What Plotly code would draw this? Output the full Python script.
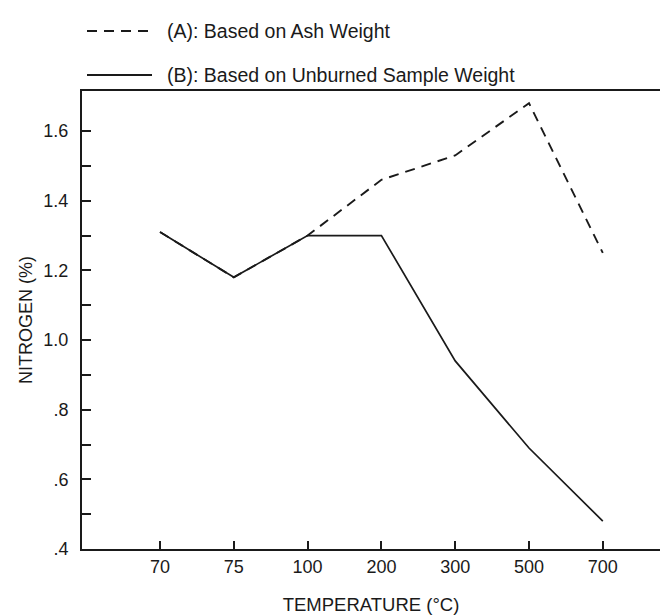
import plotly.graph_objects as go

# Data
temperatures = ["70", "75", "100", "200", "300", "500", "700"]
series_a_name = "(A): Based on Ash Weight"
series_b_name = "(B): Based on Unburned Sample Weight"
nitrogen_a = [1.31, 1.18, 1.30, 1.46, 1.53, 1.68, 1.25]
nitrogen_b = [1.31, 1.18, 1.30, 1.30, 0.94, 0.69, 0.48]
y_tickvals = [0.4, 0.5, 0.6, 0.7, 0.8, 0.9, 1.0, 1.1, 1.2, 1.3, 1.4, 1.5, 1.6]
y_ticktext = [".4", "", ".6", "", ".8", "", "1.0", "", "1.2", "", "1.4", "", "1.6"]

FONT = "Liberation Sans, Arial, sans-serif"

fig = go.Figure()
fig.add_trace(go.Scatter(x=temperatures, y=nitrogen_b, mode="lines", name=series_b_name,
                         line=dict(color="#1a1a1a", width=1.7), showlegend=False))
fig.add_trace(go.Scatter(x=temperatures, y=nitrogen_a, mode="lines", name=series_a_name,
                         line=dict(color="#1a1a1a", width=1.9, dash="10px,7px"), showlegend=False))

# Manual legend (layout decoration, paper coordinates)
W, H = 660, 615
L, T, B = 82, 91, 66
pw, ph = W - L, H - T - B
def px(x):
    return (x - L) / pw
def py(y):
    return 1 - (y - T) / ph

legend_items = [(series_a_name, "10px,7px", 31), (series_b_name, "solid", 75)]
for name, dash, yy in legend_items:
    fig.add_shape(type="line", xref="paper", yref="paper",
                  x0=px(87), x1=px(152), y0=py(yy), y1=py(yy),
                  line=dict(color="#1a1a1a", width=1.9, dash=dash))
    fig.add_annotation(text=name, xref="paper", yref="paper", x=px(165), y=py(yy),
                       xanchor="left", yanchor="middle", showarrow=False,
                       font=dict(family=FONT, size=19.5, color="#1a1a1a"))

fig.update_layout(
    width=W, height=H,
    margin=dict(l=L, r=0, t=T, b=B, pad=0),
    paper_bgcolor="white", plot_bgcolor="white",
    font=dict(family=FONT, size=18, color="#1a1a1a"),
    showlegend=False,
)
fig.update_xaxes(
    type="category", range=[-1.057, 6.775],
    showline=True, linecolor="#1a1a1a", linewidth=2, mirror=True,
    ticks="inside", ticklen=8, tickwidth=1.5, tickcolor="#1a1a1a",
    showgrid=False, zeroline=False, ticklabelstandoff=0,
    title=dict(text="TEMPERATURE (°C)", font=dict(size=18.5), standoff=22),
)
fig.update_yaxes(
    range=[0.40, 1.715],
    tickmode="array", tickvals=y_tickvals, ticktext=y_ticktext,
    showline=True, linecolor="#1a1a1a", linewidth=2, mirror=False,
    ticks="inside", ticklen=9, tickwidth=1.5, tickcolor="#1a1a1a",
    showgrid=False, zeroline=False, ticklabelstandoff=8,
    title=dict(text="NITROGEN (%)", font=dict(size=18), standoff=6),
)

fig.write_html("out.html")
